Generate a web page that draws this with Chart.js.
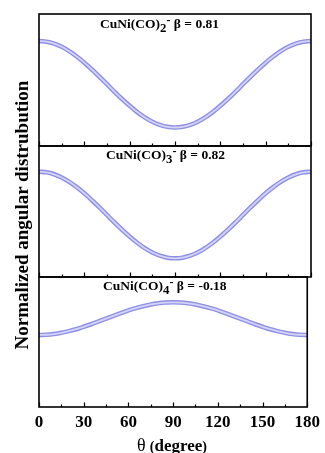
<!DOCTYPE html>
<html>
<head>
<meta charset="utf-8">
<script src="https://cdn.jsdelivr.net/npm/chart.js@4.4.1/dist/chart.umd.min.js"></script>
<style>
  html, body { margin: 0; padding: 0; background: #fff; }
  #wrap { position: relative; width: 325px; height: 453px; overflow: hidden; background: #fff; }
  canvas { position: absolute; left: 0; top: 0; }
  .lbl { position: absolute; font-family: "Liberation Serif", "Times New Roman", serif; font-weight: bold; color: #000; white-space: nowrap; z-index: 5; }
  .plbl { font-size: 13.5px; line-height: 14px; }
  .sb { font-size: 0.95em; position: relative; top: 0.32em; }
  .sp { font-size: 0.9em; position: relative; top: -0.35em; }
</style>
</head>
<body>
<div id="wrap">
  <canvas id="c1" width="325" height="453"></canvas>
  <canvas id="c2" width="325" height="453"></canvas>
  <canvas id="c3" width="325" height="453"></canvas>
  <div class="lbl plbl" style="left:100px; top:17px;">CuNi(CO)<span class="sb">2</span><span class="sp">-</span> β = 0.81</div>
  <div class="lbl plbl" style="left:106px; top:148px;">CuNi(CO)<span class="sb">3</span><span class="sp">-</span> β = 0.82</div>
  <div class="lbl plbl" style="left:103px; top:279px;">CuNi(CO)<span class="sb">4</span><span class="sp">-</span> β = -0.18</div>
  <div class="lbl" style="left:-128px; top:204px; width:300px; height:22px; line-height:22px; text-align:center; font-size:19px; transform:rotate(-90deg);">Normalized angular distrubution</div>
  <div class="lbl" style="left:72px; top:435px; width:200px; height:20px; line-height:20px; text-align:center; font-size:17px;"><span style="font-weight:normal; font-size:18px;">θ</span> <span style="font-size:14px;">(</span>degree<span style="font-size:14px;">)</span></div>
</div>
<script>
// ---- data ----
const thetaDeg = [0,5,10,15,20,25,30,35,40,45,50,55,60,65,70,75,80,85,90,95,100,105,110,115,120,125,130,135,140,145,150,155,160,165,170,175,180];
const seriesCO2 = [1.810,1.801,1.773,1.729,1.668,1.593,1.506,1.410,1.308,1.203,1.097,0.995,0.899,0.812,0.737,0.676,0.632,0.604,0.595,0.604,0.632,0.676,0.737,0.812,0.899,0.995,1.097,1.203,1.308,1.410,1.506,1.593,1.668,1.729,1.773,1.801,1.810];
const seriesCO3 = [1.820,1.811,1.783,1.738,1.676,1.600,1.513,1.415,1.312,1.205,1.098,0.995,0.898,0.810,0.734,0.672,0.627,0.599,0.590,0.599,0.627,0.672,0.734,0.810,0.898,0.995,1.098,1.205,1.312,1.415,1.513,1.600,1.676,1.738,1.783,1.811,1.820];
const seriesCO4 = [0.820,0.822,0.828,0.838,0.852,0.868,0.888,0.909,0.932,0.955,0.978,1.001,1.023,1.042,1.058,1.072,1.082,1.088,1.090,1.088,1.082,1.072,1.058,1.042,1.023,1.001,0.978,0.955,0.932,0.909,0.888,0.868,0.852,0.838,0.828,0.822,0.820];
const tickValues = [0,30,60,90,120,150,180];
const tickLabels = ['0','30','60','90','120','150','180'];
const minorTickValues = [15,45,75,105,135,165];

const OUTER = '#8f8fe4';
const INNER = '#d4d4f8';

const frameTicks = {
  id: 'frameTicks',
  afterDatasetsDraw(chart) {
    const {ctx, chartArea: a, scales: {x}} = chart;
    ctx.save();
    ctx.strokeStyle = '#000';
    ctx.lineWidth = 1.2;
    ctx.beginPath();
    tickValues.forEach(v => {
      const px = Math.round(x.getPixelForValue(v)) + 0.5;
      ctx.moveTo(px, a.bottom); ctx.lineTo(px, a.bottom - 4.5);
    });
    minorTickValues.forEach(v => {
      const px = Math.round(x.getPixelForValue(v)) + 0.5;
      ctx.moveTo(px, a.bottom); ctx.lineTo(px, a.bottom - 2.5);
    });
    ctx.stroke();
    ctx.lineWidth = 1.6;
    ctx.strokeRect(a.left, a.top, a.right - a.left, a.bottom - a.top);
    ctx.restore();
  }
};

function makeChart(id, values, yMin, yMax, pad, showX) {
  const pts = thetaDeg.map((t, i) => ({x: t, y: values[i]}));
  const xScale = {
    type: 'linear', min: 0, max: 180, display: showX,
    grid: {display: false, drawTicks: false},
    border: {display: false},
    afterBuildTicks: s => { s.ticks = tickValues.map(v => ({value: v})); },
    ticks: {
      padding: 5,
      color: '#000',
      font: {family: "'Liberation Serif', 'Times New Roman', serif", size: 17, weight: 'bold'},
      callback: v => tickLabels[tickValues.indexOf(v)]
    }
  };
  if (showX) xScale.afterFit = s => { s.height = 30; };
  return new Chart(document.getElementById(id), {
    type: 'line',
    data: {
      datasets: [
        {data: pts, borderColor: INNER, borderWidth: 1.8, pointRadius: 0, cubicInterpolationMode: 'monotone', fill: false, order: 0},
        {data: pts, borderColor: OUTER, borderWidth: 4.6, pointRadius: 0, cubicInterpolationMode: 'monotone', fill: false, order: 1}
      ]
    },
    options: {
      responsive: false, animation: false, devicePixelRatio: 1,
      layout: {padding: pad},
      plugins: {legend: {display: false}, tooltip: {enabled: false}, title: {display: false}},
      events: [],
      scales: {
        x: xScale,
        y: {type: 'linear', min: yMin, max: yMax, display: false}
      }
    },
    plugins: [frameTicks]
  });
}

makeChart('c1', seriesCO2, 0.335, 2.19, {top: 14, bottom: 307, left: 39, right: 14}, false);
makeChart('c2', seriesCO3, 0.324, 2.185, {top: 146, bottom: 176, left: 39, right: 14}, false);
makeChart('c3', seriesCO4, 0.2255, 1.299, {top: 277, bottom: 16, left: 39, right: 14}, true);
</script>
</body>
</html>
